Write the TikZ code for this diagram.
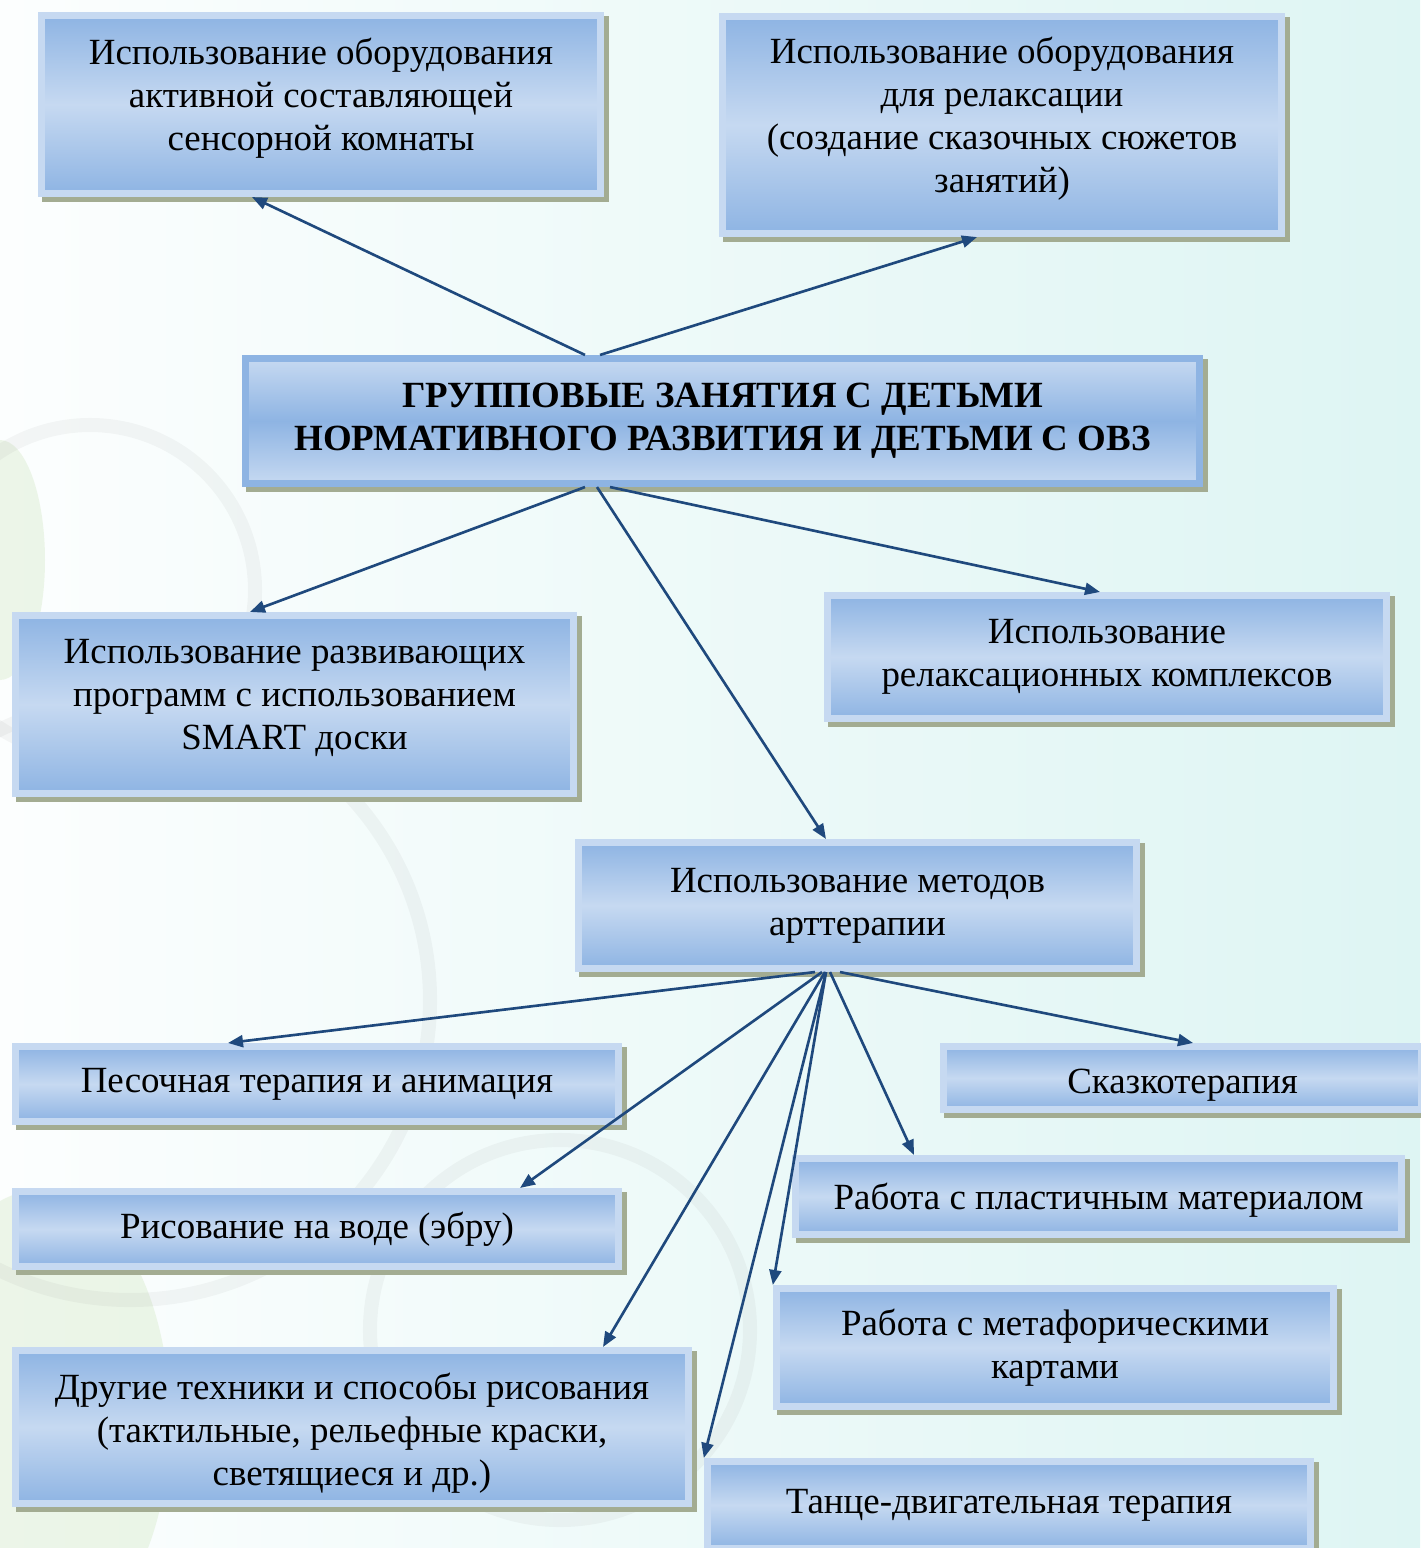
\documentclass[tikz,border=0pt]{standalone}
\usepackage{fontspec}
\setmainfont{Liberation Serif}
\usetikzlibrary{calc,arrows.meta,shadows}

\definecolor{boxdark}{RGB}{142,180,227}
\definecolor{boxlight}{RGB}{198,217,241}
\definecolor{shadowcol}{RGB}{163,172,146}
\definecolor{linkblue}{RGB}{31,73,125}
\definecolor{bgleft}{RGB}{252,254,254}
\definecolor{bgright}{RGB}{222,245,243}
\definecolor{leafgreen}{RGB}{150,200,110}

\newcommand{\boxfont}{\fontsize{10.5}{12.2}\selectfont}
% struts to move the text of a box up (last line) or down (first line)
\newcommand{\liftup}{\rule[-0.2cm]{0pt}{0.2cm}}
\newcommand{\pushdown}[1]{\rule{0pt}{#1}}

\begin{document}
\begin{tikzpicture}[x=0.01cm, y=-0.01cm,
  sensbox/.style={draw=boxlight, line width=0.07cm, top color=boxdark, bottom color=boxdark, middle color=boxlight, align=center, inner sep=0pt, font=\boxfont, drop shadow={shadow xshift=0.045cm, shadow yshift=-0.045cm, opacity=1, fill=shadowcol, draw=shadowcol, line width=0.07cm}},
  mainbox/.style={sensbox, draw=boxdark, top color=boxlight, bottom color=boxlight, middle color=boxdark, font=\boxfont\bfseries},
  link/.style={draw=linkblue, line width=0.75pt, -{Triangle[length=0.15cm, width=0.12cm]}},
  swirl/.style={draw=gray, opacity=0.07, line width=4pt}]

\useasboundingbox (0,0) rectangle (1420,1548);

% background
\fill[left color=bgleft, right color=bgright] (0,0) rectangle (1420,1548);
\fill[leafgreen, opacity=0.15] (0,560) ellipse (45 and 120);
\fill[leafgreen, opacity=0.15] (40,1420) ellipse (130 and 230);
\draw[swirl] (90,590) circle (165);
\draw[swirl] (130,1000) circle (300);
\draw[swirl] (560,1330) circle (190);

% boxes
\node[sensbox, minimum width=5.59cm, minimum height=1.78cm] (1) at (321,104.5) {Использование оборудования\\активной составляющей\\сенсорной комнаты\liftup};
\node[sensbox, minimum width=5.59cm, minimum height=2.17cm] (2) at (1002,125) {Использование оборудования\\для релаксации\\(создание сказочных сюжетов\\занятий)\liftup};
\node[mainbox, minimum width=9.54cm, minimum height=1.25cm] (3) at (722.5,421) {ГРУППОВЫЕ ЗАНЯТИЯ С ДЕТЬМИ\\НОРМАТИВНОГО РАЗВИТИЯ И ДЕТЬМИ С ОВЗ};
\node[sensbox, minimum width=5.58cm, minimum height=1.78cm] (4) at (294.5,704.5) {Использование развивающих\\программ с использованием\\SMART доски\liftup};
\node[sensbox, minimum width=5.59cm, minimum height=1.23cm] (5) at (1107,657) {Использование\\релаксационных комплексов};
\node[sensbox, minimum width=5.58cm, minimum height=1.26cm] (6) at (857.5,905.5) {Использование методов\\арттерапии};
\node[sensbox, minimum width=6.03cm, minimum height=0.75cm] (7) at (317,1084) {Песочная терапия и анимация};
\node[sensbox, minimum width=4.78cm, minimum height=0.63cm] (8) at (1182.5,1078) {\pushdown{0.38cm}Сказкотерапия};
\node[sensbox, minimum width=6.06cm, minimum height=0.76cm] (9) at (1098.5,1196.5) {\pushdown{0.33cm}Работа с пластичным материалом};
\node[sensbox, minimum width=6.03cm, minimum height=0.75cm] (10) at (317,1229) {Рисование на воде (эбру)};
\node[sensbox, minimum width=5.57cm, minimum height=1.18cm] (11) at (1055,1347.5) {Работа с метафорическими\\картами};
\node[sensbox, minimum width=6.73cm, minimum height=1.53cm] (12) at (352,1427) {\pushdown{0.38cm}Другие техники и способы рисования\\(тактильные, рельефные краски,\\светящиеся и др.)};
\node[sensbox, minimum width=6.03cm, minimum height=0.87cm] (13) at (1009,1505) {Танце-двигательная терапия};

% links from the group box
\draw[link] ($(3.north)+(-137.5,0)$) -- ($(1.south)+(-69,0)$);
\draw[link] ($(3.north)+(-122.5,0)$) -- ($(2.south)+(-25,0)$);
\draw[link] ($(3.south)+(-137.5,0)$) -- ($(4.north)+(-44.5,0)$);
\draw[link] ($(3.south)+(-125.5,0)$) -- ($(6.north)+(-31.5,0)$);
\draw[link] ($(3.south)+(-112.5,0)$) -- ($(5.north)+(-7,0)$);

% links from the art box
\coordinate (a) at ($(6.south)+(-31.5,0)$);
\draw[link] ($(6.south)+(-42.5,0)$) -- ($(7.north)+(-89,0)$);
\draw[link] ($(6.south)+(-35.5,0)$) -- ($(10.north)+(203,0)$);
\draw[link] ($(6.south)+(-32.5,0)$) -- ($(12.north)+(251,0)$);
\draw[link] (a) -- (13.north west);
\draw[link] (a) -- (11.north west);
\draw[link] ($(6.south)+(-27.5,0)$) -- ($(9.north)+(-184.5,0)$);
\draw[link] ($(6.south)+(-17.5,0)$) -- ($(8.north)+(10.5,0)$);

\end{tikzpicture}
\end{document}
